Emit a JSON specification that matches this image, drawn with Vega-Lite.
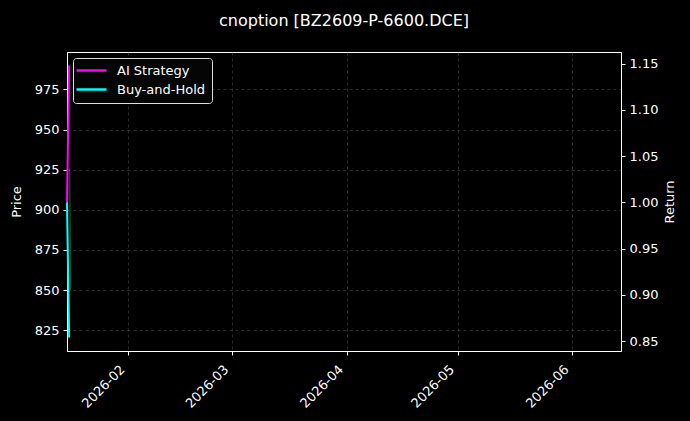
{
  "$schema": "https://vega.github.io/schema/vega-lite/v6.json",
  "width": 554,
  "height": 299,
  "autosize": {"type": "none"},
  "padding": {"left": 67, "top": 52, "right": 69, "bottom": 70},
  "background": "black",
  "title": {
    "text": "cnoption [BZ2609-P-6600.DCE]",
    "color": "white",
    "font": "DejaVu Sans",
    "fontSize": 16,
    "fontWeight": "normal",
    "baseline": "alphabetic",
    "offset": 10,
    "frame": "group"
  },
  "datasets": {
    "price": [
      {"date": "2026-01-16T04:00:00", "price": 926},
      {"date": "2026-01-16T08:00:00", "price": 850}
    ],
    "returns": [
      {"date": "2026-01-15T10:00:00", "series": "AI Strategy", "value": 1.0},
      {"date": "2026-01-16T00:00:00", "series": "AI Strategy", "value": 1.148},
      {"date": "2026-01-15T10:00:00", "series": "Buy-and-Hold", "value": 1.0},
      {"date": "2026-01-16T00:00:00", "series": "Buy-and-Hold", "value": 0.854}
    ]
  },
  "layer": [
    {
      "data": {"name": "price"},
      "mark": {"type": "line", "color": "#2ca02c", "strokeWidth": 1, "opacity": 0.7},
      "encoding": {
        "x": {
          "field": "date",
          "type": "temporal",
          "scale": {"domain": [
            {"year": 2026, "month": 1, "date": 15, "hours": 10},
            {"year": 2026, "month": 6, "date": 14, "hours": 4}
          ]},
          "axis": {
            "title": null,
            "values": [
              {"year": 2026, "month": 2, "date": 1},
              {"year": 2026, "month": 3, "date": 1},
              {"year": 2026, "month": 4, "date": 1},
              {"year": 2026, "month": 5, "date": 1},
              {"year": 2026, "month": 6, "date": 1}
            ],
            "format": "%Y-%m",
            "labelAngle": -45,
            "labelAlign": "right",
            "labelBaseline": "bottom",
            "labelPadding": 17,
            "labelOffset": -1
          }
        },
        "y": {
          "field": "price",
          "type": "quantitative",
          "scale": {"domain": [812, 998.3], "zero": false, "nice": false},
          "axis": {
            "title": "Price",
            "values": [825, 850, 875, 900, 925, 950, 975],
            "titlePadding": 11
          }
        }
      }
    },
    {
      "data": {"name": "returns"},
      "mark": {"type": "line", "strokeWidth": 2},
      "encoding": {
        "x": {
          "field": "date",
          "type": "temporal",
          "scale": {"domain": [
            {"year": 2026, "month": 1, "date": 15, "hours": 10},
            {"year": 2026, "month": 6, "date": 14, "hours": 4}
          ]}
        },
        "y": {
          "field": "value",
          "type": "quantitative",
          "scale": {"domain": [0.8395, 1.1625], "zero": false, "nice": false},
          "axis": {
            "orient": "right",
            "title": "Return",
            "titleAngle": -90,
            "titleBaseline": "top",
            "values": [0.85, 0.9, 0.95, 1.0, 1.05, 1.1, 1.15],
            "format": ".2f",
            "titlePadding": 6
          }
        },
        "color": {
          "field": "series",
          "type": "nominal",
          "scale": {"domain": ["AI Strategy", "Buy-and-Hold"], "range": ["#ff00ff", "#00ffff"]},
          "legend": {
            "title": null,
            "orient": "none",
            "legendX": 6,
            "legendY": 6,
            "symbolType": "M-3,0L3,0",
            "symbolSize": 100,
            "symbolStrokeWidth": 2.5,
            "symbolOffset": 6,
            "labelOffset": 19,
            "rowPadding": 5,
            "padding": 6,
            "fillColor": "#050505",
            "strokeColor": "#dddddd",
            "cornerRadius": 3
          }
        }
      }
    }
  ],
  "resolve": {"scale": {"y": "independent"}, "axis": {"y": "independent"}},
  "config": {
    "font": "DejaVu Sans",
    "view": {"stroke": "white", "strokeWidth": 1},
    "axis": {
      "domainColor": "white",
      "tickColor": "white",
      "tickSize": 4,
      "labelColor": "white",
      "labelFont": "DejaVu Sans",
      "labelFontSize": 13,
      "labelPadding": 4,
      "titleColor": "white",
      "titleFont": "DejaVu Sans",
      "titleFontSize": 13,
      "titleFontWeight": "normal",
      "grid": true,
      "gridColor": "#666666",
      "gridOpacity": 0.7,
      "gridDash": [3, 3],
      "gridWidth": 0.6
    },
    "legend": {
      "labelColor": "white",
      "labelFont": "DejaVu Sans",
      "labelFontSize": 13
    }
  }
}
